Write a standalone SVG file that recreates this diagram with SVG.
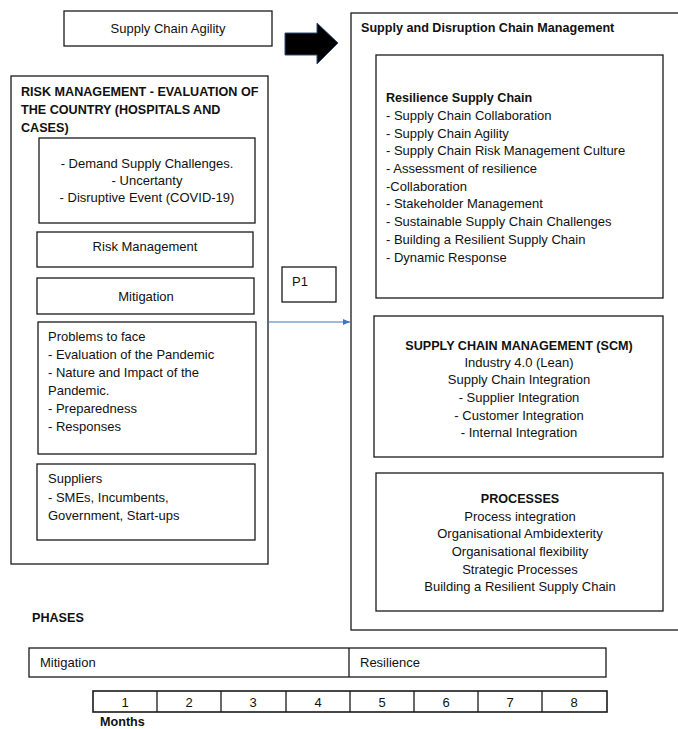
<svg xmlns="http://www.w3.org/2000/svg" width="678" height="729" viewBox="0 0 678 729">
<style>
rect.b{fill:#fff;stroke:#1a1a1a;stroke-width:1.3}
text{font-family:"Liberation Sans",Arial,sans-serif;font-size:13px;fill:#111}
.bold{font-weight:bold;font-size:12.6px}
.c{text-anchor:middle}
</style>
<defs>
<marker id="ah" markerWidth="8" markerHeight="8" refX="7" refY="4" orient="auto" markerUnits="userSpaceOnUse">
<path d="M0,1 L7,4 L0,7 Z" fill="#4472C4"/>
</marker>
</defs>
<rect width="678" height="729" fill="#fff"/>

<g id="agility">
<rect class="b" x="64" y="11" width="208" height="35"/>
<text class="c" x="168" y="33">Supply Chain Agility</text>
</g>

<g id="risk-management-evaluation">
<rect class="b" x="11" y="76" width="257" height="488"/>
<text class="bold" x="21" y="96">RISK MANAGEMENT - EVALUATION OF</text>
<text class="bold" x="21" y="114">THE COUNTRY (HOSPITALS AND</text>
<text class="bold" x="21" y="132">CASES)</text>
</g>

<g id="demand">
<rect class="b" x="39" y="138" width="216" height="85"/>
<text class="c" x="147" y="168">- Demand Supply Challenges.</text>
<text class="c" x="147" y="185">- Uncertanty</text>
<text class="c" x="147" y="202">- Disruptive Event (COVID-19)</text>
</g>

<g id="risk">
<rect class="b" x="37" y="232" width="216" height="35"/>
<text class="c" x="145" y="251">Risk Management</text>
</g>

<g id="mitigation">
<rect class="b" x="37" y="278" width="217" height="36"/>
<text class="c" x="146" y="301">Mitigation</text>
</g>

<g id="problems">
<rect class="b" x="38" y="322" width="218" height="132"/>
<text x="48" y="341">Problems to face</text>
<text x="48" y="359">- Evaluation of the Pandemic</text>
<text x="48" y="377">- Nature and Impact of the</text>
<text x="48" y="395">Pandemic.</text>
<text x="48" y="413">- Preparedness</text>
<text x="48" y="431">- Responses</text>
</g>

<g id="suppliers">
<rect class="b" x="37" y="464" width="218" height="76"/>
<text x="48" y="483">Suppliers</text>
<text x="48" y="502">- SMEs, Incumbents,</text>
<text x="48" y="520">Government, Start-ups</text>
</g>

<g id="p1">
<rect class="b" x="282" y="267" width="54" height="35"/>
<text x="292" y="286">P1</text>
</g>

<g id="supply-disruption">
<rect class="b" x="351" y="13" width="340" height="617"/>
<text class="bold" x="361" y="32">Supply and Disruption Chain Management</text>
</g>

<g id="resilience">
<rect class="b" x="376" y="55" width="287" height="243"/>
<text class="bold" x="386" y="102">Resilience Supply Chain</text>
<text x="386" y="120">- Supply Chain Collaboration</text>
<text x="386" y="138">- Supply Chain Agility</text>
<text x="386" y="155">- Supply Chain Risk Management Culture</text>
<text x="386" y="173">- Assessment of resilience</text>
<text x="386" y="191">-Collaboration</text>
<text x="386" y="208">- Stakeholder Management</text>
<text x="386" y="226">- Sustainable Supply Chain Challenges</text>
<text x="386" y="244">- Building a Resilient Supply Chain</text>
<text x="386" y="262">- Dynamic Response</text>
</g>

<g id="scm">
<rect class="b" x="374" y="316" width="289" height="141"/>
<text class="bold c" x="519" y="350">SUPPLY CHAIN MANAGEMENT (SCM)</text>
<text class="c" x="519" y="367">Industry 4.0 (Lean)</text>
<text class="c" x="519" y="384">Supply Chain Integration</text>
<text class="c" x="519" y="402">- Supplier Integration</text>
<text class="c" x="519" y="420">- Customer Integration</text>
<text class="c" x="519" y="437">- Internal Integration</text>
</g>

<g id="processes">
<rect class="b" x="376" y="473" width="287" height="138"/>
<text class="bold c" x="520" y="503">PROCESSES</text>
<text class="c" x="520" y="521">Process integration</text>
<text class="c" x="520" y="538">Organisational Ambidexterity</text>
<text class="c" x="520" y="556">Organisational flexibility</text>
<text class="c" x="520" y="574">Strategic Processes</text>
<text class="c" x="520" y="591">Building a Resilient Supply Chain</text>
</g>

<g id="phases">
<text class="bold" x="32" y="622">PHASES</text>
<rect class="b" x="29" y="648" width="577" height="29"/>
<line x1="349" y1="648" x2="349" y2="677" stroke="#1a1a1a" stroke-width="1.3"/>
<text x="40" y="667">Mitigation</text>
<text x="360" y="667">Resilience</text>
</g>

<g id="months">
<rect class="b" x="93" y="691" width="514" height="21" style="stroke-width:1.6"/>
<g stroke="#1a1a1a" stroke-width="1.3">
<line x1="157" y1="691" x2="157" y2="712"/>
<line x1="221" y1="691" x2="221" y2="712"/>
<line x1="286" y1="691" x2="286" y2="712"/>
<line x1="350" y1="691" x2="350" y2="712"/>
<line x1="414" y1="691" x2="414" y2="712"/>
<line x1="478" y1="691" x2="478" y2="712"/>
<line x1="542" y1="691" x2="542" y2="712"/>
</g>
<text class="c" x="125" y="707">1</text>
<text class="c" x="189" y="707">2</text>
<text class="c" x="253" y="707">3</text>
<text class="c" x="318" y="707">4</text>
<text class="c" x="382" y="707">5</text>
<text class="c" x="446" y="707">6</text>
<text class="c" x="510" y="707">7</text>
<text class="c" x="574" y="707">8</text>
<text class="bold" x="100" y="726">Months</text>
</g>

<g id="connectors">
<path d="M285,33 L317,33 L317,23 L338,43 L317,64 L317,55 L285,55 Z" fill="#000" stroke="#2F4A7A" stroke-width="1"/>
<line x1="268" y1="322" x2="350" y2="322" stroke="#4472C4" stroke-width="1" marker-end="url(#ah)"/>
</g>
</svg>
